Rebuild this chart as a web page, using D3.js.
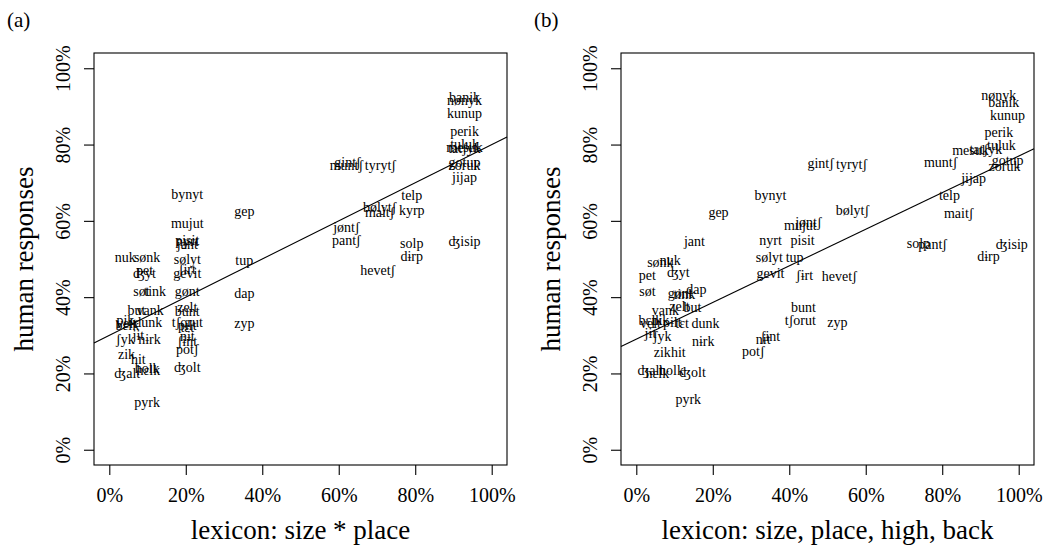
<!DOCTYPE html>
<html><head><meta charset="utf-8">
<script src="https://cdn.jsdelivr.net/npm/d3@7"></script>
<style>
body{margin:0;background:#fff}
svg{display:block}
text{font-family:'Liberation Serif','Times New Roman',serif;fill:#000}
</style>
</head><body>
<svg id="chart" width="1047" height="548"></svg>
<script>
// ---------- data ----------
const wordsA = ["banik","nønyk","kunup","perik","tuluk","mesuk","tatʃyk","gotup","zoruk","jijap",
  "gintʃ","muntʃ","tyrytʃ","telp","bølytʃ","maitʃ","kyrp","jøntʃ","pantʃ","solp","dɨrp","ʤisip","hevetʃ",
  "bynyt","gep","mujut","pisit","nyrt","jant","sølyt","tup","ʃɨrt","gevit","gønt","dap","zelt","bunt",
  "tʃorut","pɨlt","tɛt","zyp","nɨt","ʃɨnt","potʃ","ʤolt",
  "nuk","sønk","pet","ʤyt","søt","tink","but","vank","pik","bɛlk","velt","dunk","ʃyk","jɨt","nɨrk",
  "zik","hit","ʤalt","holk","hɛlk","pyrk"];
const lexA = [92.9,92.9,92.9,92.9,92.9,92.9,92.9,92.9,92.9,92.9,
  62.3,62.0,70.9,79.1,70.7,70.7,79.1,62.0,62.0,79.1,79.1,92.9,70.2,
  20.4,35.3,20.4,20.4,20.4,20.4,20.4,35.3,20.4,20.4,20.4,35.3,20.4,20.4,
  20.4,20.4,20.4,35.3,20.4,20.4,20.4,20.4,
  4.2,9.9,9.2,9.2,8.4,12.0,7.1,10.7,4.2,4.7,4.5,10.2,4.2,7.6,10.5,
  4.5,7.6,4.7,9.9,10.2,9.9];
const humanA = [92.4,91.6,88.2,83.5,80.1,79.3,79.1,75.4,74.6,71.5,
  75.4,74.6,74.6,66.8,63.6,62.3,62.8,58.4,55.0,54.2,50.8,54.5,47.1,
  67.0,62.6,59.4,55.0,54.7,53.9,50.0,49.7,47.4,46.3,41.4,41.1,37.4,36.4,
  33.5,32.7,32.2,33.2,29.8,28.5,26.2,21.5,
  50.3,50.3,46.9,46.1,41.4,41.4,36.6,36.6,34.0,32.7,33.2,33.5,28.8,30.1,28.8,
  24.9,23.6,19.9,21.2,20.7,12.3];

const wordsB = ["nønyk","banik","kunup","perik","mesuk","tatʃyk","tuluk","muntʃ","gotup","zoruk",
  "jijap","telp","maitʃ","solp","pantʃ","ʤisip","dɨrp","gintʃ","tyrytʃ","bølytʃ","hevetʃ",
  "mujut","jøntʃ","pisit","nyrt","sølyt","tup","gevit","ʃɨrt","bunt","tʃorut","zyp","bynyt","gep",
  "nɨt","ʃɨnt","potʃ",
  "jant","sønk","nuk","pet","ʤyt","søt","gønt","tink","dap","vank","zelt","but",
  "bɛlk","velt","pɨlt","tɛt","dunk","pik","jɨt","ʃyk","nɨrk","zik","hit",
  "ʤalt","hɛlk","holk","ʤolt","pyrk"];
const lexB = [94.8,96.1,97.1,94.8,87.4,91.4,95.5,79.6,97.1,96.3,
  88.2,81.9,84.3,73.8,77.5,98.2,92.1,48.2,56.3,56.5,53.1,
  42.9,45.0,43.5,35.1,34.8,41.4,35.1,44.0,43.7,42.9,52.6,35.1,21.5,
  33.2,35.1,30.6,
  15.2,6.3,8.9,2.9,11.0,2.9,11.5,12.6,15.7,7.6,11.3,14.7,
  3.7,3.7,9.4,12.0,18.1,6.3,3.7,6.8,17.5,6.8,11.0,
  3.7,5.5,9.2,14.7,13.6];
const humanB = [92.9,91.1,87.7,83.2,78.5,78.8,79.8,75.4,75.9,74.3,
  71.2,66.8,62.0,54.2,53.9,53.9,50.8,75.1,74.9,62.8,45.5,
  58.9,59.7,55.0,55.0,50.5,50.3,46.3,45.8,37.2,34.0,33.5,66.8,62.3,
  28.8,29.6,25.7,
  54.5,49.2,49.7,45.8,46.6,41.4,41.1,40.8,42.1,36.6,37.7,37.2,
  34.0,33.0,33.5,33.2,33.2,34.0,30.6,29.8,28.3,25.4,25.4,
  20.9,19.9,20.9,20.4,13.1];

const tickValues = [0,20,40,60,80,100];
const tickLabels = ["0%","20%","40%","60%","80%","100%"];
const fitA = [30.0, 0.50];   // intercept (%), slope
const fitB = [29.0, 0.48];
const panelTags = ["(a)","(b)"];
const xTitles = ["lexicon: size * place","lexicon: size, place, high, back"];
const yTitle = "human responses";

// ---------- drawing ----------
const serif = "'Liberation Serif','Times New Roman',serif";
const svg = d3.select("#chart");
const panels = [
  {left:94, words:wordsA, x:lexA, y:humanA, fit:fitA, tag:panelTags[0], xt:xTitles[0]},
  {left:621, words:wordsB, x:lexB, y:humanB, fit:fitB, tag:panelTags[1], xt:xTitles[1]}
];
const plotW = 413, plotTop = 53, plotBottom = 465;

panels.forEach(p => {
  const g = svg.append("g");
  const xs = d3.scaleLinear().domain([-4,104]).range([p.left, p.left+plotW]);
  const ys = d3.scaleLinear().domain([-4,104]).range([plotBottom, plotTop]);

  g.append("rect").attr("x",p.left).attr("y",plotTop).attr("width",plotW).attr("height",plotBottom-plotTop)
    .attr("fill","none").attr("stroke","#000").attr("stroke-width",1.1);

  const xa = g.append("g").attr("transform",`translate(0,${plotBottom})`)
    .call(d3.axisBottom(xs).tickValues(tickValues).tickFormat((d,i)=>tickLabels[i]).tickSize(10).tickSizeOuter(0))
    .attr("font-family",serif);
  xa.select(".domain").remove();
  xa.selectAll("line").attr("stroke","#000").attr("stroke-width",1.1);
  xa.selectAll("text").attr("y",37).attr("dy",null).attr("font-size",20)
    .style("font-family",serif).attr("fill","#000");

  const ya = g.append("g").attr("transform",`translate(${p.left},0)`)
    .call(d3.axisLeft(ys).tickValues(tickValues).tickFormat((d,i)=>tickLabels[i]).tickSize(10).tickSizeOuter(0))
    .attr("font-family",serif);
  ya.select(".domain").remove();
  ya.selectAll("line").attr("stroke","#000").attr("stroke-width",1.1);
  ya.selectAll("text").attr("x",null).attr("dy",null).attr("y",null)
    .attr("text-anchor","middle").attr("font-size",20)
    .attr("transform","translate(-24,0) rotate(-90)")
    .style("font-family",serif).attr("fill","#000");

  g.append("line")
    .attr("x1",xs(-4)).attr("y1",ys(p.fit[0]+p.fit[1]*-4))
    .attr("x2",xs(104)).attr("y2",ys(p.fit[0]+p.fit[1]*104))
    .attr("stroke","#000").attr("stroke-width",1.1);

  g.selectAll("text.w").data(p.words).join("text").attr("class","w")
    .attr("x",(d,i)=>xs(p.x[i])).attr("y",(d,i)=>ys(p.y[i]))
    .attr("dy","0.33em").attr("text-anchor","middle").attr("font-size",14)
    .text(d=>d);

  g.append("text").attr("x",(xs(0)+xs(100))/2).attr("y",539).attr("text-anchor","middle")
    .attr("font-size",27).text(p.xt);
  g.append("text").attr("transform",`translate(${p.left-61},${(plotTop+plotBottom)/2}) rotate(-90)`)
    .attr("text-anchor","middle").attr("font-size",27).text(yTitle);
  g.append("text").attr("x",p.left-87).attr("y",27).attr("font-size",21).text(p.tag);
});
</script>
</body></html>
